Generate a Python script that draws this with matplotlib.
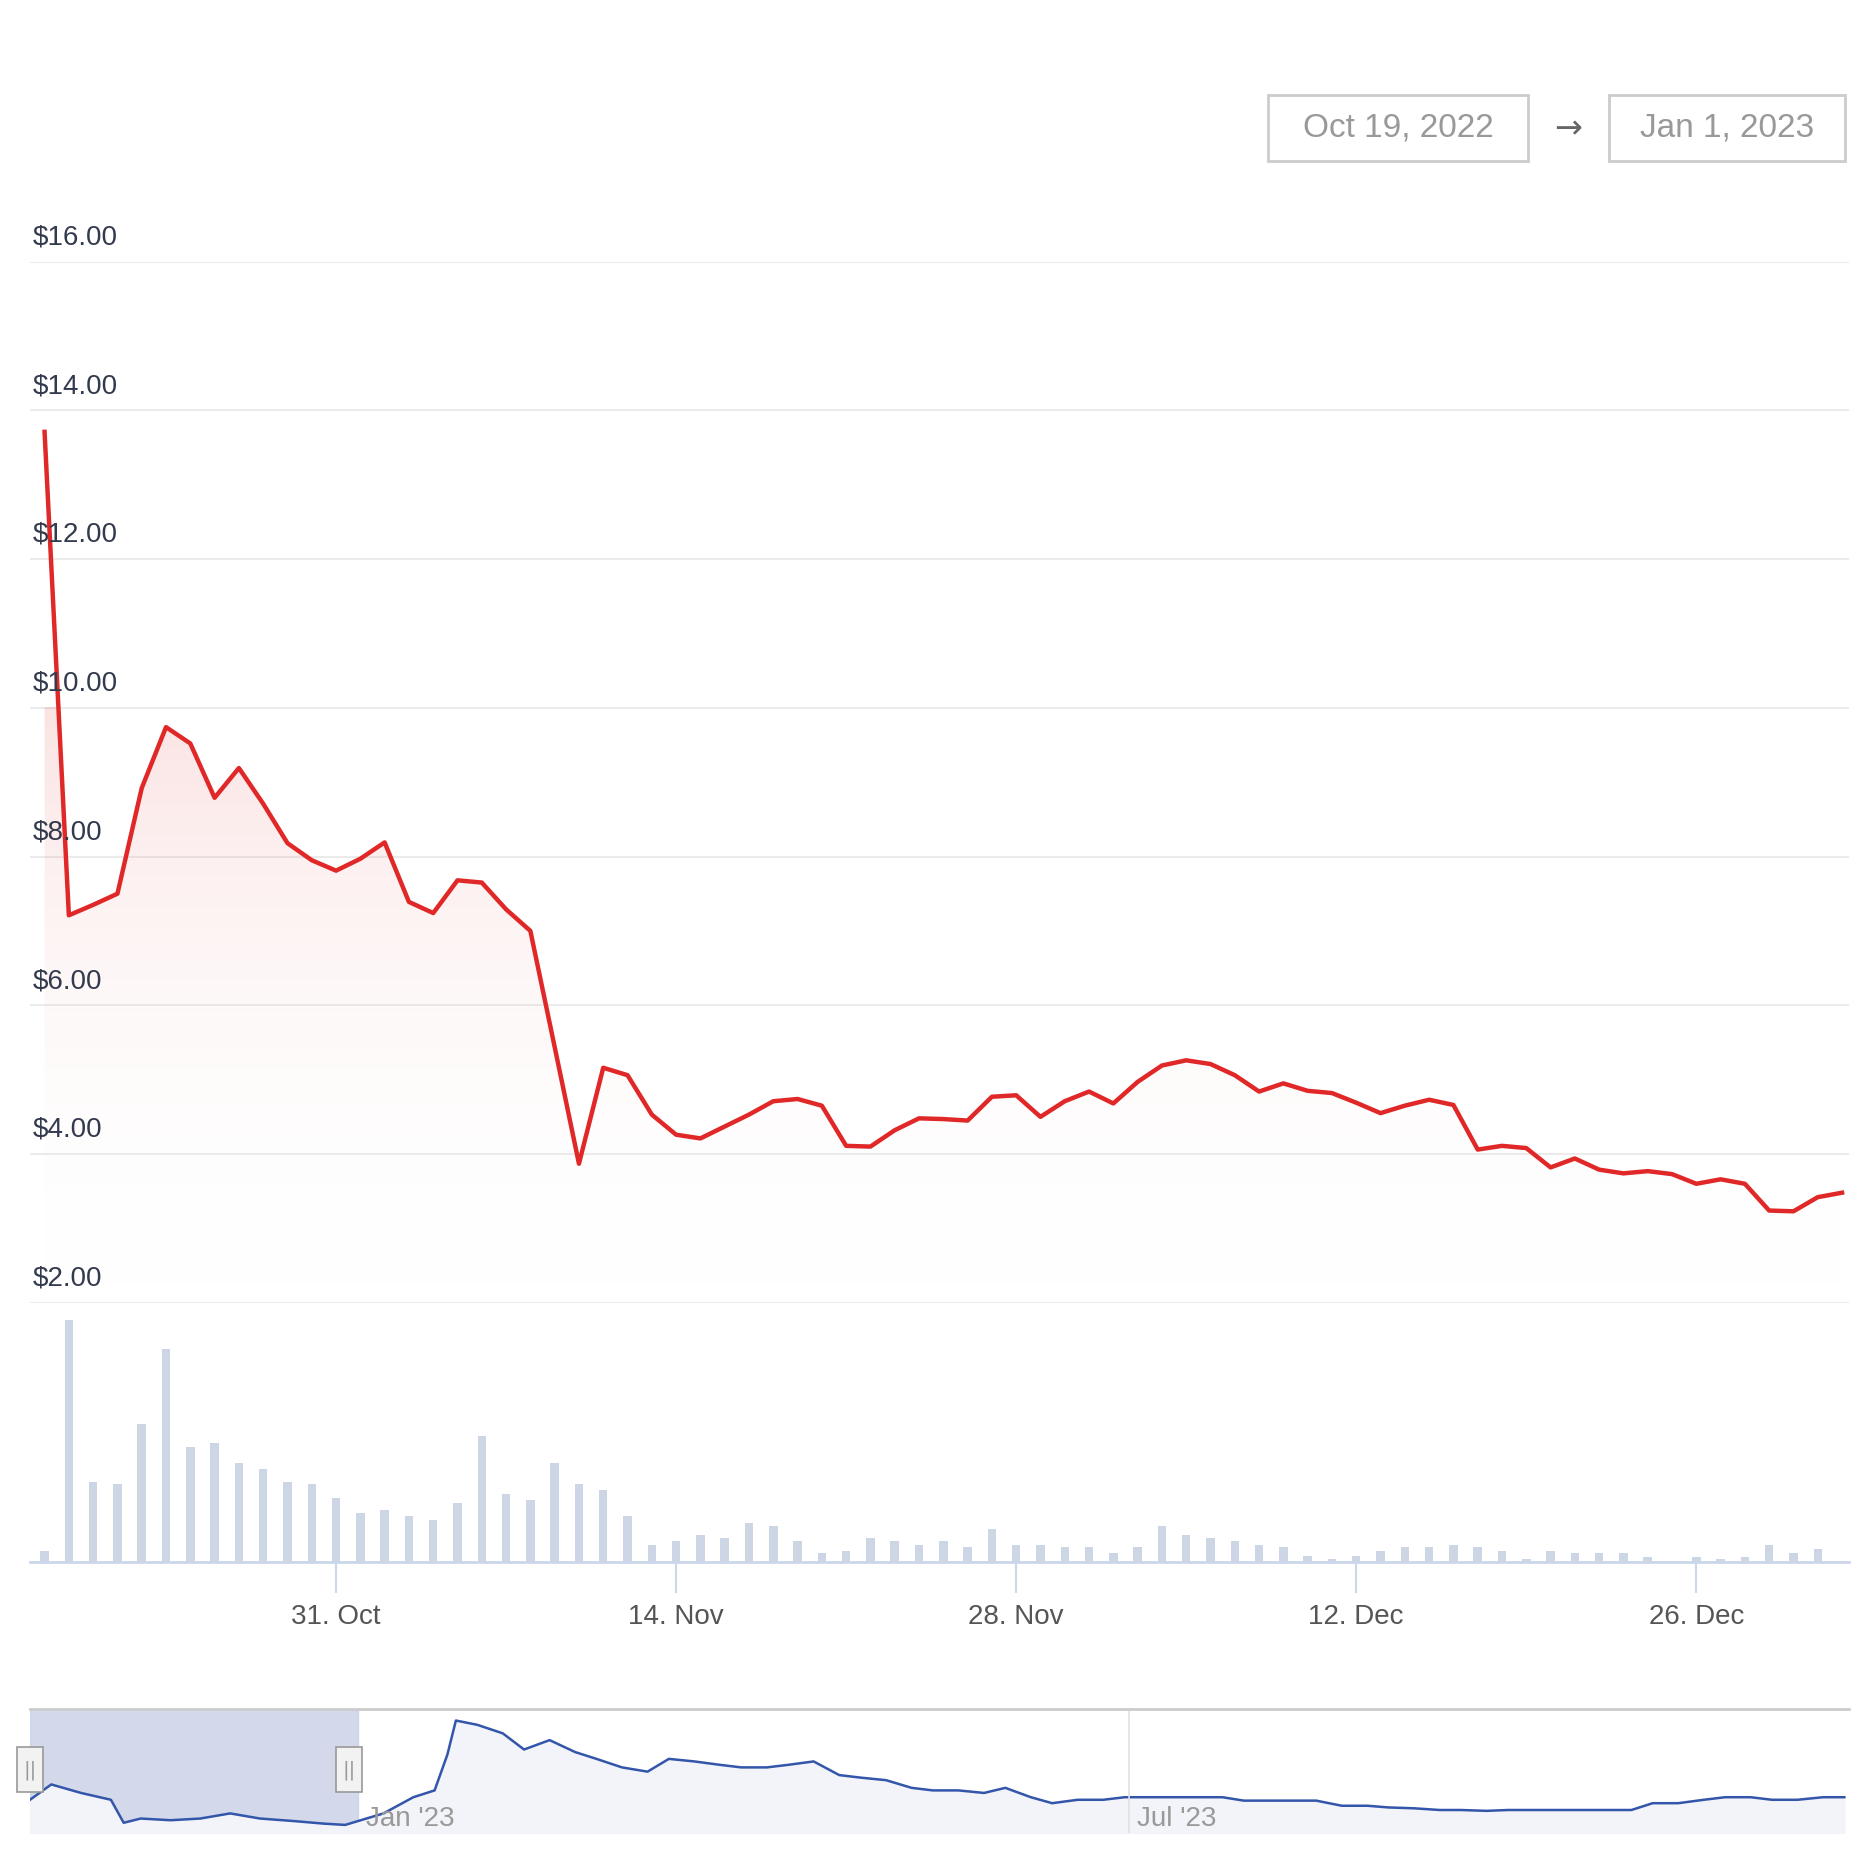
import matplotlib
matplotlib.use("Agg")
import matplotlib.pyplot as plt
import matplotlib.dates as mdates
import numpy as np
import datetime as dt

start = dt.date(2022, 10, 19)
prices = [13.71, 7.21, 7.35, 7.50, 8.92, 9.74, 9.52, 8.79, 9.19, 8.71,
          8.18, 7.95, 7.81, 7.97, 8.19, 7.39, 7.24, 7.68, 7.65, 7.29,
          7.00, 5.44, 3.87, 5.16, 5.06, 4.53, 4.26, 4.21, 4.37, 4.53,
          4.71, 4.74, 4.65, 4.11, 4.10, 4.32, 4.48, 4.47, 4.45, 4.77,
          4.79, 4.50, 4.71, 4.84, 4.68, 4.97, 5.19, 5.26, 5.21, 5.06,
          4.84, 4.95, 4.85, 4.82, 4.69, 4.55, 4.65, 4.73, 4.66, 4.06,
          4.11, 4.08, 3.82, 3.94, 3.79, 3.74, 3.77, 3.73, 3.60, 3.66,
          3.60, 3.24, 3.23, 3.42, 3.48]
volumes = [9, 200, 66, 64, 114, 176, 95, 98, 82, 77,
           66, 64, 53, 40, 43, 38, 35, 49, 104, 56,
           51, 82, 64, 59, 38, 14, 17, 22, 20, 32,
           30, 17, 7, 9, 20, 17, 14, 17, 12, 27,
           14, 14, 12, 12, 7, 12, 30, 22, 20, 17,
           14, 12, 5, 2, 5, 9, 12, 12, 14, 12,
           9, 2, 9, 7, 7, 7, 4, 0, 4, 2,
           4, 14, 7, 11, 0]
nav_start = dt.date(2022, 10, 16)
nav_days = [0, 5.6, 12.7, 19.7, 22.5, 26.8, 33.8, 40.8, 47.9, 54.9, 62.0, 69.0, 74.6,
            83.1, 90.1, 95.8, 98.6, 100.8, 105.6, 111.3, 116.9, 122.5, 128.2, 133.8,
            139.4, 145.1, 150.7, 156.3, 162.0, 167.6, 173.2, 178.9, 184.5, 190.1,
            195.8, 201.4, 207.0, 212.7, 218.3, 224.0, 229.6, 235.2, 240.8, 246.5,
            252.1, 257.7, 263.4, 269.0, 274.6, 280.3, 285.9, 291.5, 297.2, 302.8,
            308.5, 314.1, 319.7, 325.4, 331.0, 336.6, 342.3, 347.9, 353.5, 359.2,
            364.8, 370.4, 376.1, 381.7, 387.3, 393.0, 398.6, 404.2, 409.9, 415.5,
            421.1, 426.8]
nav_vals = [6.1, 7.9, 6.9, 6.1, 3.4, 3.9, 3.7, 3.9, 4.5, 3.9, 3.6, 3.3, 3.15,
            4.5, 6.4, 7.2, 11.4, 15.4, 14.9, 13.9, 12.0, 13.1, 11.7, 10.9,
            9.9, 9.4, 10.9, 10.6, 10.2, 9.9, 9.9, 10.2, 10.6, 9.0,
            8.7, 8.4, 7.5, 7.2, 7.2, 6.9, 7.5, 6.4, 5.7, 6.1,
            6.1, 6.4, 6.4, 6.4, 6.4, 6.4, 6.0, 6.0, 6.0, 6.0,
            5.4, 5.4, 5.2, 5.1, 4.9, 4.9, 4.8, 4.9, 4.9, 4.9,
            4.9, 4.9, 4.9, 5.7, 5.7, 6.1, 6.4, 6.4, 6.1, 6.1,
            6.4, 6.4]
ytick_vals = [2, 4, 6, 8, 10, 12, 14, 16]
xtick_dates = [dt.date(2022, 10, 31), dt.date(2022, 11, 14), dt.date(2022, 11, 28),
               dt.date(2022, 12, 12), dt.date(2022, 12, 26)]
xtick_labels = ["31. Oct", "14. Nov", "28. Nov", "12. Dec", "26. Dec"]

W = 1563.0
def fx(px): return px / W
def fy(py): return 1 - py / W

dates = [start + dt.timedelta(days=i) for i in range(len(prices))]
xl = (mdates.date2num(start) - 0.6, mdates.date2num(start) + 74.27)

fig = plt.figure(figsize=(18.75, 18.75), dpi=100)
FONT = "Liberation Sans"
TXT = "#333a4d"

ax = fig.add_axes([fx(25), fy(1086), fx(1541 - 25), (1086 - 218) / W])
ax.set_xlim(*xl); ax.set_ylim(2, 16)
ax.plot(dates, prices, color="#e02828", lw=3.2, zorder=3)
# gradient fill
grad = np.linspace(0, 1, 256).reshape(-1, 1)
from matplotlib.colors import LinearSegmentedColormap
cmap = LinearSegmentedColormap.from_list("g", [(1, 1, 1, 0.0), (0.88, 0.16, 0.16, 0.13)])
poly = ax.fill_between(dates, prices, 2, color="none")
im = ax.imshow(grad, cmap=cmap, aspect="auto", origin="lower",
               extent=[xl[0], xl[1], 2, 10], zorder=1)
im.set_clip_path(poly.get_paths()[0], transform=ax.transData)
for v in ytick_vals:
    ax.axhline(v, color="#ebebeb", lw=1.5, zorder=0)
    ax.text(fx(27), fy(1086 - (v - 2) * 62) + 0.006, f"${v:.2f}", transform=fig.transFigure,
            fontsize=20, color=TXT, family=FONT, va="bottom", ha="left")
ax.axis("off")

vax = fig.add_axes([fx(25), fy(1302), fx(1541 - 25), (1302 - 1090) / W])
vax.bar(dates, volumes, width=0.35, color="#ccd6e4")
vax.set_xlim(*xl); vax.set_ylim(0, 210)
for s in ["top", "left", "right"]:
    vax.spines[s].set_visible(False)
vax.spines["bottom"].set_color("#ccd6eb"); vax.spines["bottom"].set_linewidth(2)
vax.set_yticks([])
vax.set_xticks(xtick_dates)
vax.set_xticklabels(xtick_labels, fontsize=20, color="#555", family=FONT)
vax.tick_params(axis="x", length=22, color="#ccd6eb", width=1.5, pad=8)

nav = fig.add_axes([fx(25), fy(1528), fx(1541 - 25), (1528 - 1425) / W])
nd = [nav_start + dt.timedelta(days=d) for d in nav_days]
nav.plot(nd, nav_vals, color="#3355aa", lw=1.8)
nav.fill_between(nd, nav_vals, 0, color="#f3f4f9")
nxl = (mdates.date2num(nav_start), mdates.date2num(nav_start) + 427)
nav.set_xlim(*nxl); nav.set_ylim(2.2, 16.7)
nav.axvspan(mdates.date2num(nav_start), mdates.date2num(dt.date(2023, 1, 1)),
            color="#ccd3e8", alpha=0.85, zorder=0)
nav.axvline(mdates.date2num(dt.date(2023, 7, 1)), color="#e0e0e0", lw=1.2)
nav.text(dt.date(2023, 1, 3), 3.0, "Jan '23", fontsize=20, color="#999", family=FONT)
nav.text(dt.date(2023, 7, 3), 3.0, "Jul '23", fontsize=20, color="#999", family=FONT)
for s in nav.spines.values():
    s.set_visible(False)
nav.spines["top"].set_visible(True); nav.spines["top"].set_color("#cccccc"); nav.spines["top"].set_linewidth(2)
nav.set_xticks([]); nav.set_yticks([])
for hx in [25, 291]:
    fig.patches.append(plt.Rectangle((fx(hx - 11), fy(1494)), fx(22), 38 / W,
                       transform=fig.transFigure, facecolor="#f2f2f2", edgecolor="#999", lw=1.2))
    fig.text(fx(hx), fy(1476), "||", fontsize=14, color="#999", ha="center", va="center")

# date range boxes
for (x0, x1, txt) in [(1057, 1274, "Oct 19, 2022"), (1341, 1538, "Jan 1, 2023")]:
    fig.patches.append(plt.Rectangle((fx(x0), fy(134)), fx(x1 - x0), 55 / W,
                       transform=fig.transFigure, facecolor="white", edgecolor="#cccccc", lw=2))
    fig.text(fx((x0 + x1) / 2), fy(107), txt, fontsize=24, color="#999", family=FONT,
             ha="center", va="center")
fig.text(fx(1307), fy(107), "→", fontsize=24, color="#666", ha="center", va="center")

fig.savefig("out.png", dpi=100, facecolor="white")
